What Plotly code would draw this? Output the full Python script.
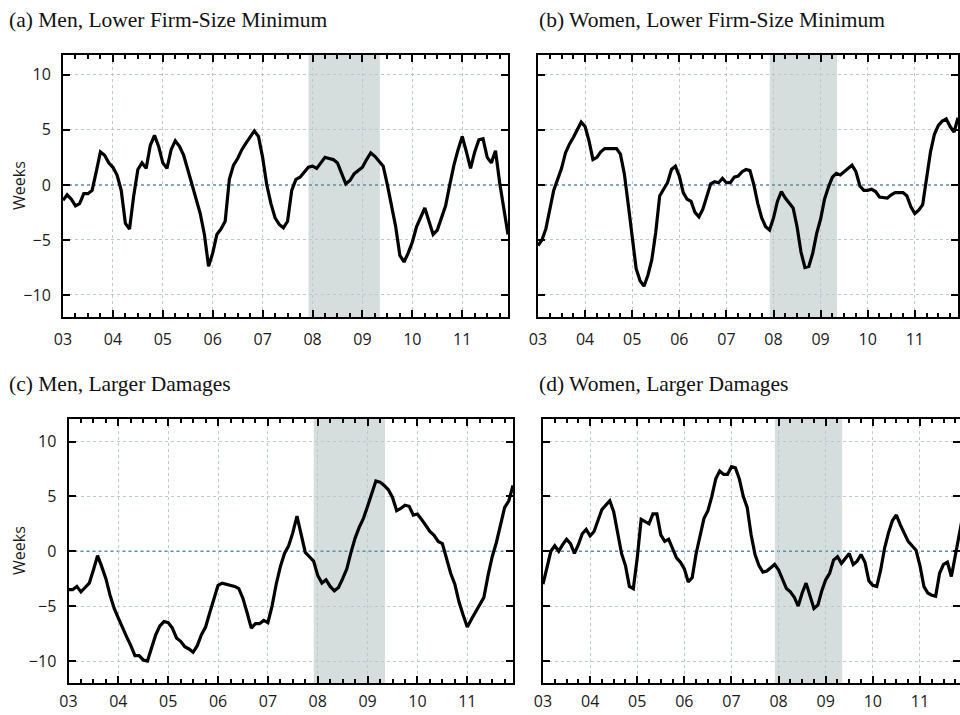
import plotly.graph_objects as go

# ---------------- data (monthly, Jan 2003 - Dec 2011) ----------------
years = [2003, 2004, 2005, 2006, 2007, 2008, 2009, 2010, 2011]
year_labels = ["03", "04", "05", "06", "07", "08", "09", "10", "11"]
month_index = list(range(108))
rec_start = 2007.92
rec_end = 2009.35

men_lower_min = [
    -1.4, -0.9, -1.3, -1.9, -1.7, -0.8, -0.8, -0.5, 1.2, 3.0, 2.7, 2.0,
    1.6, 0.9, -0.5, -3.5, -4.0, -1.0, 1.4, 2.0, 1.5, 3.6, 4.5, 3.5,
    2.0, 1.5, 3.2, 4.0, 3.5, 2.7, 1.4, 0.1, -1.3, -2.6, -4.5, -7.4,
    -6.2, -4.5, -4.0, -3.3, 0.5, 1.8, 2.4, 3.2, 3.8, 4.4, 4.9, 4.4,
    2.5, 0.0, -1.7, -3.0, -3.6, -3.9, -3.3, -0.5, 0.5, 0.7, 1.2, 1.6,
    1.7, 1.5, 2.0, 2.5, 2.4, 2.3, 2.0, 1.0, 0.1, 0.4, 1.0, 1.3,
    1.6, 2.3, 2.9, 2.6, 2.2, 1.7, 0.0, -2.0, -3.8, -6.4, -7.0, -6.2,
    -5.2, -3.8, -2.9, -2.1, -3.3, -4.5, -4.1, -3.0, -1.9, 0.0, 1.8, 3.2,
    4.4, 3.0, 1.5, 3.0, 4.1, 4.2, 2.5, 2.0, 3.1, 0.2, -2.0, -4.5,
]
women_lower_min = [
    -5.5, -5.0, -4.0, -2.3, -0.5, 0.5, 1.5, 2.9, 3.7, 4.3, 5.0, 5.7,
    5.3, 4.0, 2.3, 2.5, 3.0, 3.3, 3.3, 3.3, 3.3, 2.8, 1.0, -1.8,
    -4.9, -7.6, -8.7, -9.2, -8.2, -6.8, -4.3, -1.0, -0.4, 0.2, 1.4, 1.7,
    0.8, -0.7, -1.3, -1.5, -2.5, -2.9, -2.2, -1.0, 0.1, 0.3, 0.2, 0.6,
    0.2, 0.2, 0.7, 0.8, 1.2, 1.4, 1.3, 0.0, -1.7, -3.0, -3.8, -4.1,
    -3.0, -1.5, -0.6, -1.2, -1.6, -2.1, -3.8, -6.1, -7.5, -7.4, -6.2, -4.4,
    -3.1, -1.3, -0.2, 0.7, 1.05, 0.9, 1.2, 1.5, 1.8, 1.2, -0.1, -0.5,
    -0.5, -0.4, -0.6, -1.1, -1.15, -1.2, -0.9, -0.7, -0.7, -0.7, -1.0, -2.0,
    -2.6, -2.3, -1.8, 0.4, 3.0, 4.6, 5.4, 5.8, 6.0, 5.3, 4.8, 6.1,
]
men_larger_dmg = [
    -3.5, -3.5, -3.2, -3.7, -3.3, -2.9, -1.7, -0.4, -1.4, -2.5, -4.0, -5.2,
    -6.1, -7.0, -7.8, -8.6, -9.5, -9.5, -9.9, -10.0, -8.8, -7.6, -6.8, -6.4,
    -6.5, -7.0, -7.9, -8.2, -8.7, -8.9, -9.2, -8.6, -7.6, -6.9, -5.6, -4.4,
    -3.1, -2.9, -3.0, -3.1, -3.2, -3.4, -4.3, -5.6, -7.0, -6.6, -6.6, -6.3,
    -6.5, -5.0, -3.0, -1.4, -0.2, 0.5, 1.7, 3.2, 1.6, -0.1, -0.5, -0.9,
    -2.2, -2.9, -2.6, -3.2, -3.6, -3.3, -2.5, -1.6, -0.1, 1.2, 2.2, 3.0,
    4.1, 5.3, 6.4, 6.3, 6.0, 5.6, 4.9, 3.7, 3.9, 4.2, 4.1, 3.3,
    3.4, 2.9, 2.3, 1.8, 1.45, 0.9, 0.7, -0.7, -2.0, -3.0, -4.6, -5.8,
    -6.9, -6.2, -5.5, -4.8, -4.2, -2.2, -0.5, 0.8, 2.5, 4.0, 4.6, 6.0,
]
women_larger_dmg = [
    -3.0, -1.6, 0.0, 0.5, 0.0, 0.6, 1.1, 0.7, -0.2, 0.6, 1.6, 2.0,
    1.4, 1.8, 2.8, 3.8, 4.2, 4.6, 3.6, 1.5, -0.2, -1.3, -3.2, -3.4,
    -0.6, 2.9, 2.7, 2.5, 3.4, 3.4, 1.5, 0.9, 1.1, 0.3, -0.6, -1.0,
    -1.6, -2.8, -2.4, -0.2, 1.5, 3.0, 3.7, 5.0, 6.6, 7.3, 7.0, 7.0,
    7.7, 7.6, 6.6, 5.0, 4.0, 1.5, -0.3, -1.3, -1.9, -1.8, -1.5, -1.2,
    -1.7, -2.5, -3.4, -3.7, -4.2, -5.0, -3.8, -2.9, -4.0, -5.2, -4.9, -3.6,
    -2.6, -2.0, -0.8, -0.5, -1.1, -0.6, -0.2, -1.2, -0.9, -0.3, -1.0, -2.7,
    -3.1, -3.2, -1.7, 0.3, 1.7, 2.8, 3.3, 2.4, 1.6, 0.9, 0.5, 0.1,
    -1.3, -3.2, -3.8, -4.0, -4.1, -2.0, -1.2, -1.0, -2.3, -0.4, 1.6, 3.4,
]
panel_titles = [
    "(a) Men, Lower Firm-Size Minimum",
    "(b) Women, Lower Firm-Size Minimum",
    "(c) Men, Larger Damages",
    "(d) Women, Larger Damages",
]
y_title = "Weeks"
y_ticks = [-10, -5, 0, 5, 10]
y_grid = [-10, -5, 5, 10]

# ---------------- figure ----------------
W, H = 960, 715
x_time = [2003 + m / 12 for m in month_index]
quarters = [2003 + q * 0.25 for q in range(36)]

def px_x(a, b):
    return [a / W, b / W]

def px_y(top, bottom):
    return [(H - bottom) / H, (H - top) / H]

panels = [
    # (series, x-domain px, y-domain px, x range end, y range, show y labels, x label standoff)
    (men_lower_min, (63, 508), (55, 317), 2011.917, [-12, 11.8], True, 7),
    (women_lower_min, (538, 958), (55, 317), 2011.917, [-12, 11.8], False, 7),
    (men_larger_dmg, (68.5, 513), (419, 683), 2011.917, [-12, 12.05], True, 3),
    (women_larger_dmg, (543, 960), (419, 683), 2011.85, [-12, 12.05], False, 3),
]

grid_col = "#b9c9ce"
tick_font = dict(family="Open Sans, DejaVu Sans, sans-serif", size=16, color="#1a1a1a")

fig = go.Figure()
shapes = []
layout_axes = {}
for i, (series, xd, yd, xend, yr, ylab, xso) in enumerate(panels, start=1):
    sx = "" if i == 1 else str(i)
    fig.add_trace(go.Scatter(
        x=x_time, y=series, mode="lines",
        line=dict(color="black", width=3.2),
        xaxis="x" + sx, yaxis="y" + sx, showlegend=False,
        hoverinfo="skip",
    ))
    layout_axes["xaxis" + sx] = dict(
        domain=px_x(*xd), anchor="y" + sx, range=[2003, xend],
        tickmode="array", tickvals=years, ticktext=year_labels,
        ticks="inside", ticklen=7, tickwidth=1.5, tickcolor="black",
        showline=True, linecolor="black", linewidth=2, mirror="allticks",
        showgrid=True, gridcolor=grid_col, griddash="dot", gridwidth=1,
        zeroline=False, tickfont=tick_font, automargin=False,
        ticklabelstandoff=xso,
        minor=dict(tickvals=quarters, ticks="inside", ticklen=4,
                   tickwidth=1.5, tickcolor="black", showgrid=False),
    )
    layout_axes["yaxis" + sx] = dict(
        domain=px_y(*yd), anchor="x" + sx, range=yr,
        tickmode="array", tickvals=y_ticks,
        ticks="inside", ticklen=7, tickwidth=1.5, tickcolor="black",
        showline=True, linecolor="black", linewidth=2, mirror="allticks",
        showgrid=False, zeroline=False, tickfont=tick_font, automargin=False,
        showticklabels=ylab, ticklabelstandoff=7,
        minor=dict(tickvals=y_grid, ticks="", showgrid=True,
                   gridcolor=grid_col, griddash="dot", gridwidth=1),
    )
    shapes.append(dict(type="rect", xref="x" + sx, yref="y" + sx + " domain",
                       x0=rec_start, x1=rec_end, y0=0, y1=1,
                       fillcolor="#d6dedd", line=dict(width=0), layer="below"))
    shapes.append(dict(type="line", xref="x" + sx + " domain", yref="y" + sx,
                       x0=0, x1=1, y0=0, y1=0,
                       line=dict(color="#5b8fa8", width=1.5, dash="dot"),
                       layer="below"))

title_pos = [(7, 20), (537, 20), (7, 384), (537, 384)]
annotations = []
for txt, (tx, ty) in zip(panel_titles, title_pos):
    annotations.append(dict(
        text=txt, xref="paper", yref="paper", x=tx / W, y=(H - ty) / H,
        xanchor="left", yanchor="middle", showarrow=False,
        font=dict(family="Liberation Serif, Times New Roman, serif", size=21.5, color="#111"),
    ))
for yc in (186, 551):
    annotations.append(dict(
        text=y_title, xref="paper", yref="paper", x=19 / W, y=(H - yc) / H,
        xanchor="center", yanchor="middle", showarrow=False, textangle=-90,
        font=dict(family="Open Sans, sans-serif", size=16, color="#1a1a1a"),
    ))

fig.update_layout(
    width=W, height=H, margin=dict(l=0, r=0, t=0, b=0),
    paper_bgcolor="white", plot_bgcolor="white",
    shapes=shapes, annotations=annotations, showlegend=False,
    **layout_axes,
)

fig.write_html("out.html", config={"displayModeBar": False},
               post_script="document.body.style.margin='0';document.body.style.overflow='hidden';")
